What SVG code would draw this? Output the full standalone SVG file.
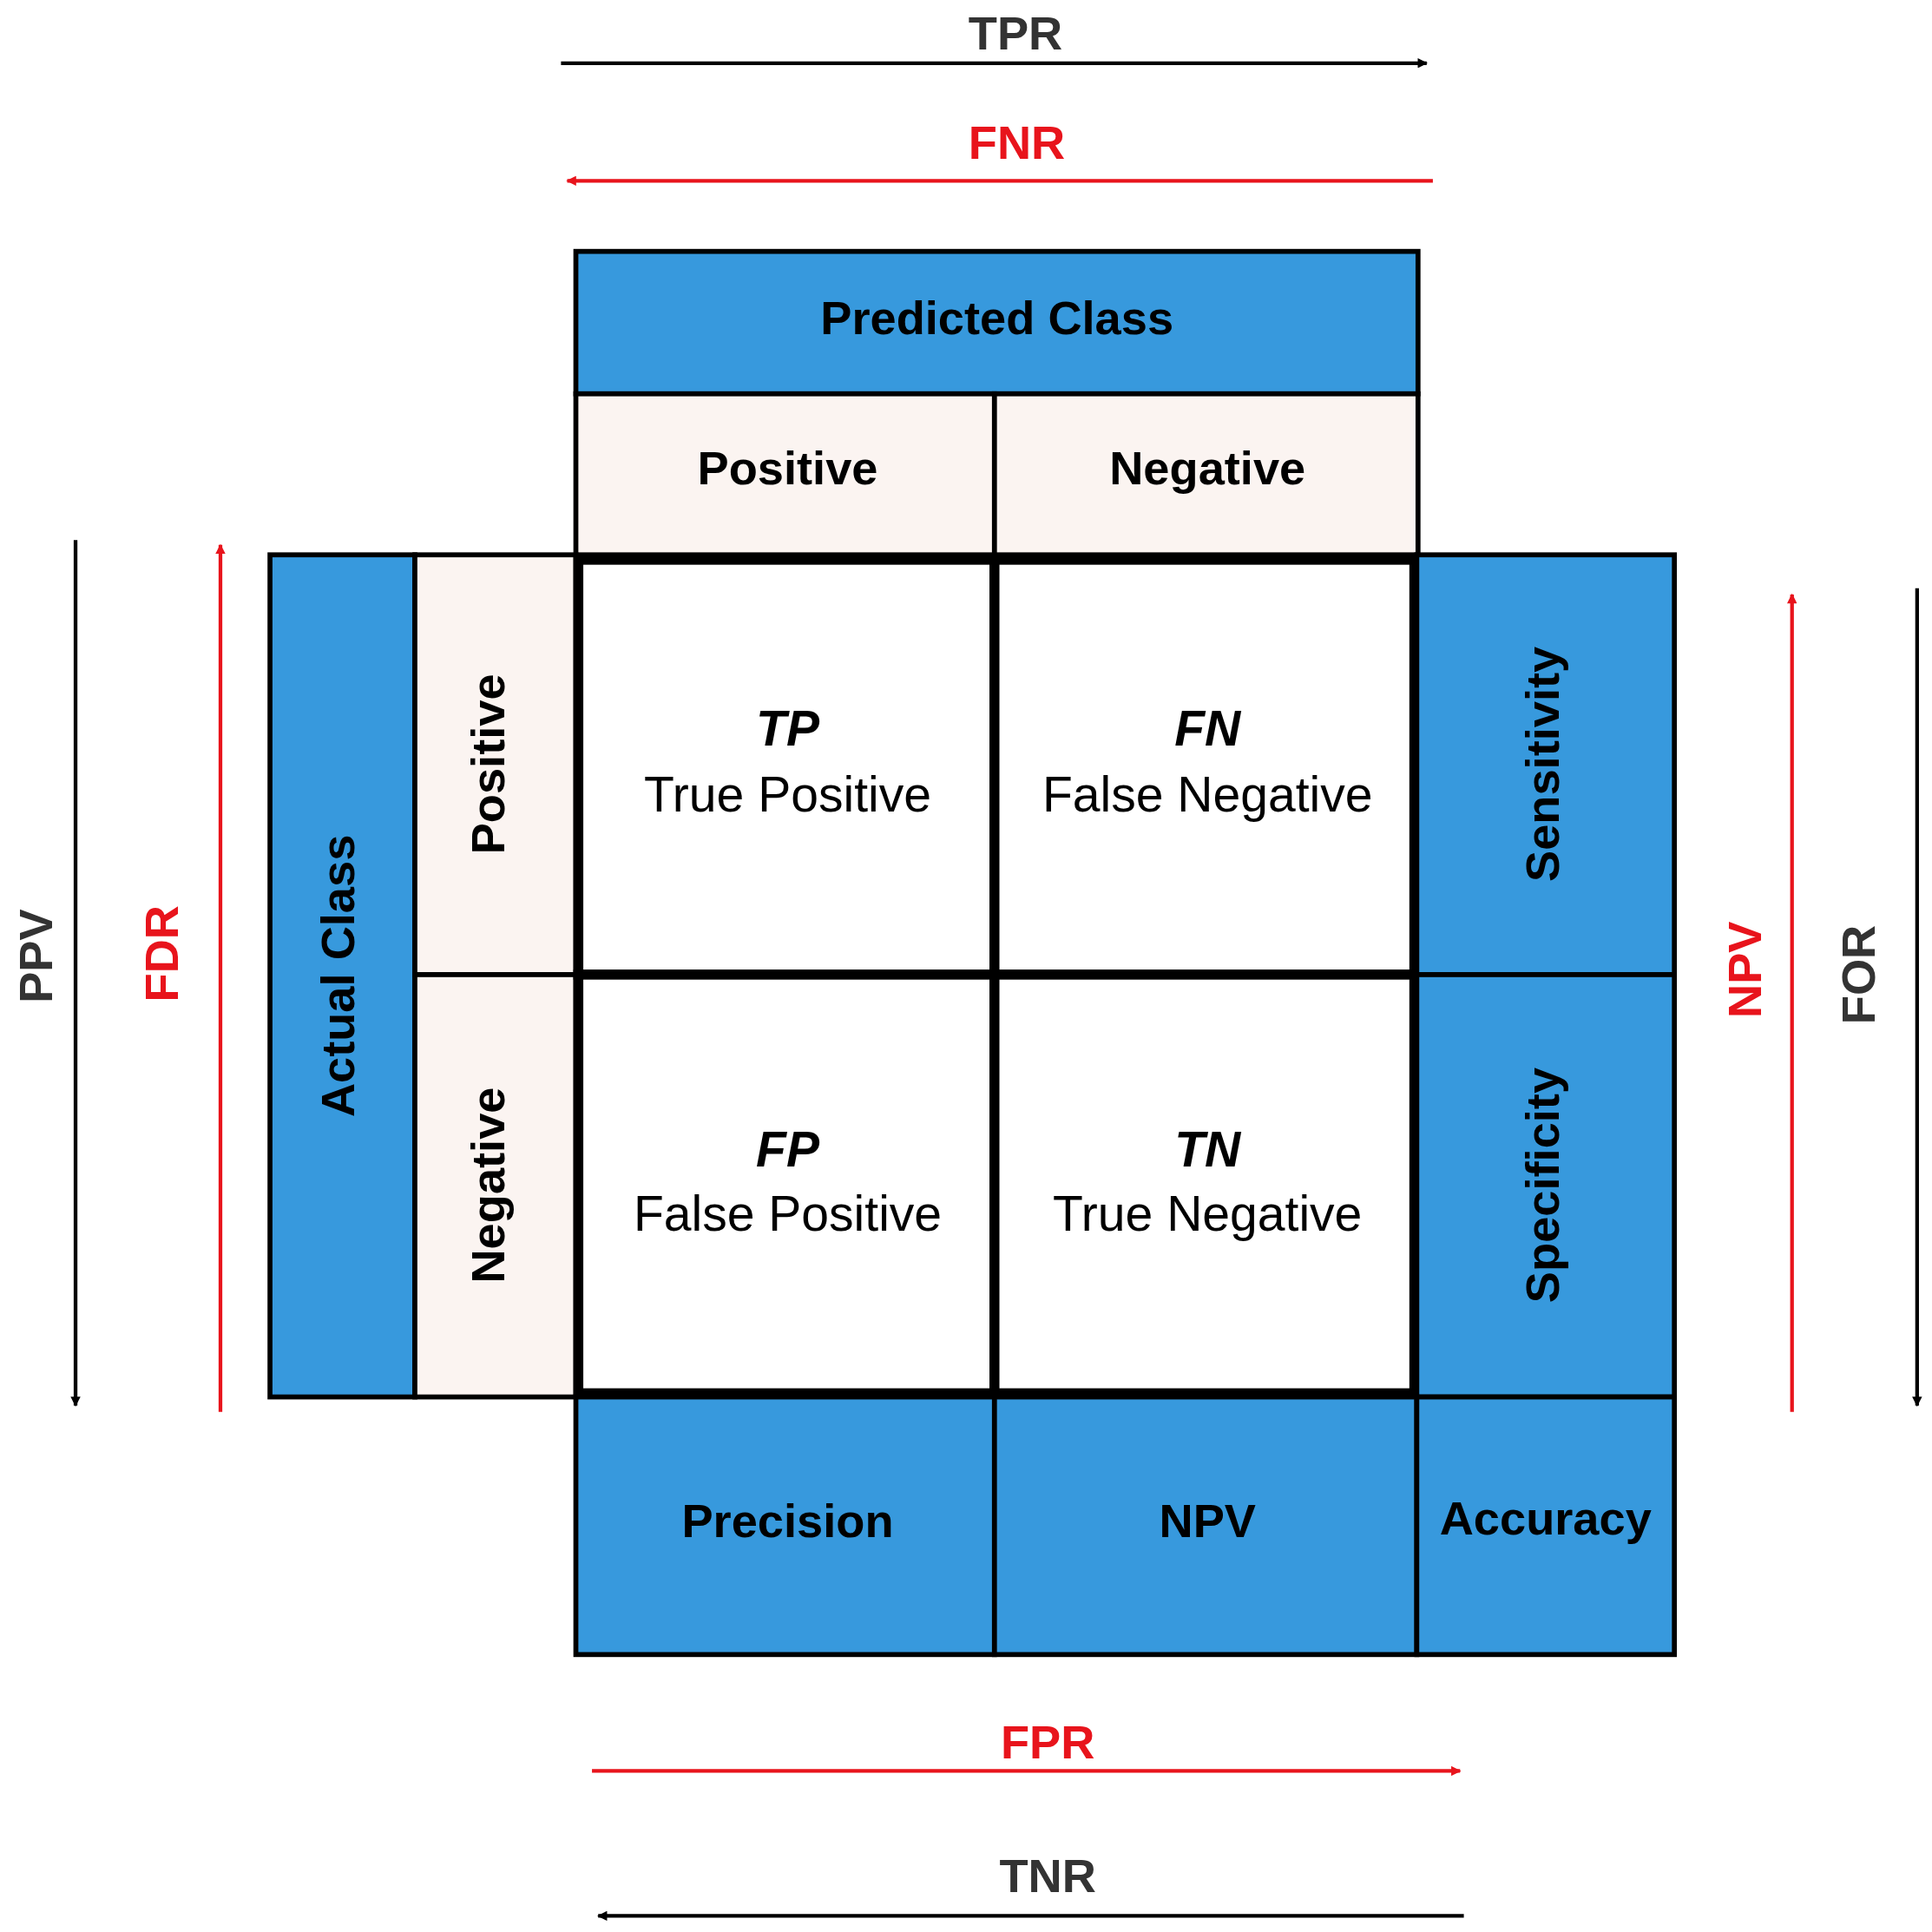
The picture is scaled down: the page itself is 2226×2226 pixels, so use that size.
<svg xmlns="http://www.w3.org/2000/svg" width="2226" height="2226" viewBox="0 0 2226 2226">
<defs>
<style>
text{font-family:"Liberation Sans",Arial,sans-serif;text-anchor:middle}
.b{fill:#3799dd;stroke:#000;stroke-width:4}
.p{fill:#fbf4f1;stroke:#000;stroke-width:4}
.w{fill:#fff;stroke:#000;stroke-width:8}
.h{font-size:38px;font-weight:bold;fill:#000}
.c{font-size:40px;fill:#000}
.ci{font-size:40px;font-weight:bold;font-style:italic;fill:#000}
.lk{font-size:38px;font-weight:bold;fill:#333}
.lr{font-size:38px;font-weight:bold;fill:#e8141c}
.ak{stroke:#000;stroke-width:3;fill:none}
.ar{stroke:#e8141c;stroke-width:3;fill:none}
</style>
<marker id="mk" viewBox="0 0 10 10" refX="9" refY="5" markerWidth="12" markerHeight="8" markerUnits="userSpaceOnUse" orient="auto"><path d="M0,0L10,5L0,10z" fill="#000" transform="scale(1)"/></marker>
<marker id="mr" viewBox="0 0 10 10" refX="9" refY="5" markerWidth="12" markerHeight="8" markerUnits="userSpaceOnUse" orient="auto"><path d="M0,0L10,5L0,10z" fill="#e8141c"/></marker>
</defs>
<g transform="scale(1.4269)">
<g id="connectors">
<path class="ak" d="M453,51H1152" marker-end="url(#mk)" style="marker-end:url(#mk)"/>
<path class="ar" d="M1157,146H458" marker-end="url(#mr)"/>
<path class="ak" d="M61,436V1135" marker-end="url(#mk)"/>
<path class="ar" d="M178,1140V440" marker-end="url(#mr)"/>
<path class="ar" d="M1447,1140V480" marker-end="url(#mr)"/>
<path class="ak" d="M1548,475V1135" marker-end="url(#mk)"/>
<path class="ar" d="M478,1430H1179" marker-end="url(#mr)"/>
<path class="ak" d="M1182,1547H483" marker-end="url(#mk)"/>
</g>
<g id="predicted"><rect class="b" x="465" y="203" width="680" height="115"/><text class="h" x="805" y="270">Predicted Class</text></g>
<g id="predpos"><rect class="p" x="465" y="318" width="338" height="130"/><text class="h" x="636" y="391">Positive</text></g>
<g id="predneg"><rect class="p" x="803" y="318" width="342" height="130"/><text class="h" x="975" y="391">Negative</text></g>
<g id="actual"><rect class="b" x="218" y="448" width="117" height="680"/><text class="h" transform="translate(286,788) rotate(-90)">Actual Class</text></g>
<g id="actpos"><rect class="p" x="335" y="448" width="130" height="339"/><text class="h" transform="translate(407,617) rotate(-90)">Positive</text></g>
<g id="actneg"><rect class="p" x="335" y="787" width="130" height="341"/><text class="h" transform="translate(407,957) rotate(-90)">Negative</text></g>
<g id="tp"><rect class="w" x="467" y="452" width="336" height="335"/><text class="ci" x="636" y="602">TP</text><text class="c" x="636" y="655">True Positive</text></g>
<g id="fn"><rect class="w" x="803" y="452" width="339" height="335"/><text class="ci" x="975" y="602">FN</text><text class="c" x="975" y="655">False Negative</text></g>
<g id="fp"><rect class="w" x="467" y="787" width="336" height="338"/><text class="ci" x="636" y="942">FP</text><text class="c" x="636" y="994">False Positive</text></g>
<g id="tn"><rect class="w" x="803" y="787" width="339" height="338"/><text class="ci" x="975" y="942">TN</text><text class="c" x="975" y="994">True Negative</text></g>
<g id="sens"><rect class="b" x="1144" y="448" width="208" height="339"/><text class="h" transform="translate(1259,617) rotate(-90)">Sensitivity</text></g>
<g id="spec"><rect class="b" x="1144" y="787" width="208" height="341"/><text class="h" transform="translate(1259,957) rotate(-90)">Specificity</text></g>
<g id="prec"><rect class="b" x="465" y="1128" width="338" height="208"/><text class="h" x="636" y="1241">Precision</text></g>
<g id="npv"><rect class="b" x="803" y="1128" width="341" height="208"/><text class="h" x="975" y="1241">NPV</text></g>
<g id="acc"><rect class="b" x="1144" y="1128" width="208" height="208"/><text class="h" x="1248" y="1239">Accuracy</text></g>
<g id="labels">
<text class="lk" x="820" y="40">TPR</text>
<text class="lr" x="821" y="128">FNR</text>
<text class="lk" transform="translate(42,772) rotate(-90)">PPV</text>
<text class="lr" transform="translate(144,770) rotate(-90)">FDR</text>
<text class="lr" transform="translate(1422,783) rotate(-90)">NPV</text>
<text class="lk" transform="translate(1514,787) rotate(-90)">FOR</text>
<text class="lr" x="846" y="1420">FPR</text>
<text class="lk" x="846" y="1528">TNR</text>
</g>
</g>
</svg>
